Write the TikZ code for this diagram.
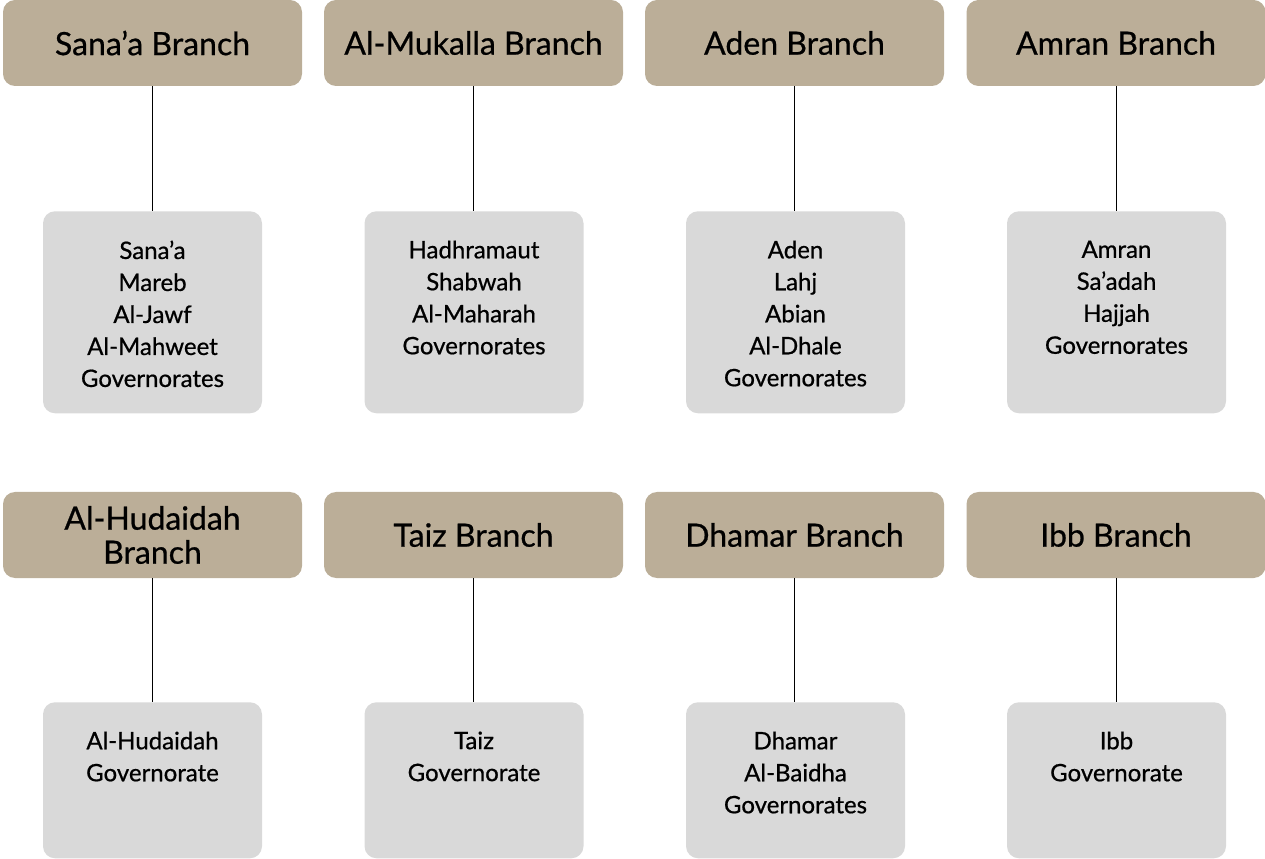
\documentclass[tikz,border=0pt]{standalone}
\usepackage{fontspec}
\setmainfont{Lato}[FakeBold=0.7]
\definecolor{branchtan}{RGB}{187,174,152}
\definecolor{govgray}{RGB}{217,217,217}
\begin{document}
\begin{tikzpicture}[x=0.75pt,y=-0.75pt,
	branch/.style={fill=branchtan, rounded corners=9pt, minimum width=224.25pt, minimum height=64.5pt, inner sep=0pt, align=center, font=\fontsize{24}{25.5}\selectfont},
	govbox/.style={fill=govgray, rounded corners=9pt, minimum width=164.25pt, inner sep=0pt, anchor=north},
	govtext/.style={anchor=north, inner sep=0pt, align=center, font=\fontsize{18}{24}\selectfont},
	link/.style={draw=black, line width=0.75pt}]
	\useasboundingbox (0,0) rectangle (1265,859);
	% first row
	\node [branch] (b1) at (152.5,43) {Sana’a Branch};
	\node [branch] (b2) at (473.5,43) {Al-Mukalla Branch};
	\node [branch] (b3) at (794.5,43) {Aden Branch};
	\node [branch] (b4) at (1116,43) {Amran Branch};
	\foreach \i/\x in {1/152.5, 2/474, 3/795.5, 4/1116.5}
		\node [govbox, minimum height=151.5pt] (g\i) at (\x,211) {};
	\node [govtext] (t1) at ([yshift=-22pt]g1.north) {Sana’a\\Mareb\\Al-Jawf\\Al-Mahweet\\Governorates};
	\node [govtext] (t2) at ([yshift=-22pt]g2.north) {Hadhramaut\\Shabwah\\Al-Maharah\\Governorates};
	\node [govtext] (t3) at ([yshift=-22pt]g3.north) {Aden\\Lahj\\Abian\\Al-Dhale\\Governorates};
	\node [govtext] (t4) at ([yshift=-22pt]g4.north) {Amran\\Sa’adah\\Hajjah\\Governorates};
	% second row
	\node [branch] (b5) at (152.5,535) {Al-Hudaidah\\Branch};
	\node [branch] (b6) at (473.5,535) {Taiz Branch};
	\node [branch] (b7) at (794.5,535) {Dhamar Branch};
	\node [branch] (b8) at (1116,535) {Ibb Branch};
	\foreach \i/\x in {5/152.5, 6/474, 7/795.5, 8/1116.5}
		\node [govbox, minimum height=117pt] (g\i) at (\x,702) {};
	\node [govtext] (t5) at ([yshift=-22pt]g5.north) {Al-Hudaidah\\Governorate};
	\node [govtext] (t6) at ([yshift=-22pt]g6.north) {Taiz\\Governorate};
	\node [govtext] (t7) at ([yshift=-22pt]g7.north) {Dhamar\\Al-Baidha\\Governorates};
	\node [govtext] (t8) at ([yshift=-22pt]g8.north) {Ibb\\Governorate};
	% links
	\foreach \i in {1,...,8}
		\draw [link] (b\i.south) -- (b\i.south |- g\i.north);
\end{tikzpicture}
\end{document}
